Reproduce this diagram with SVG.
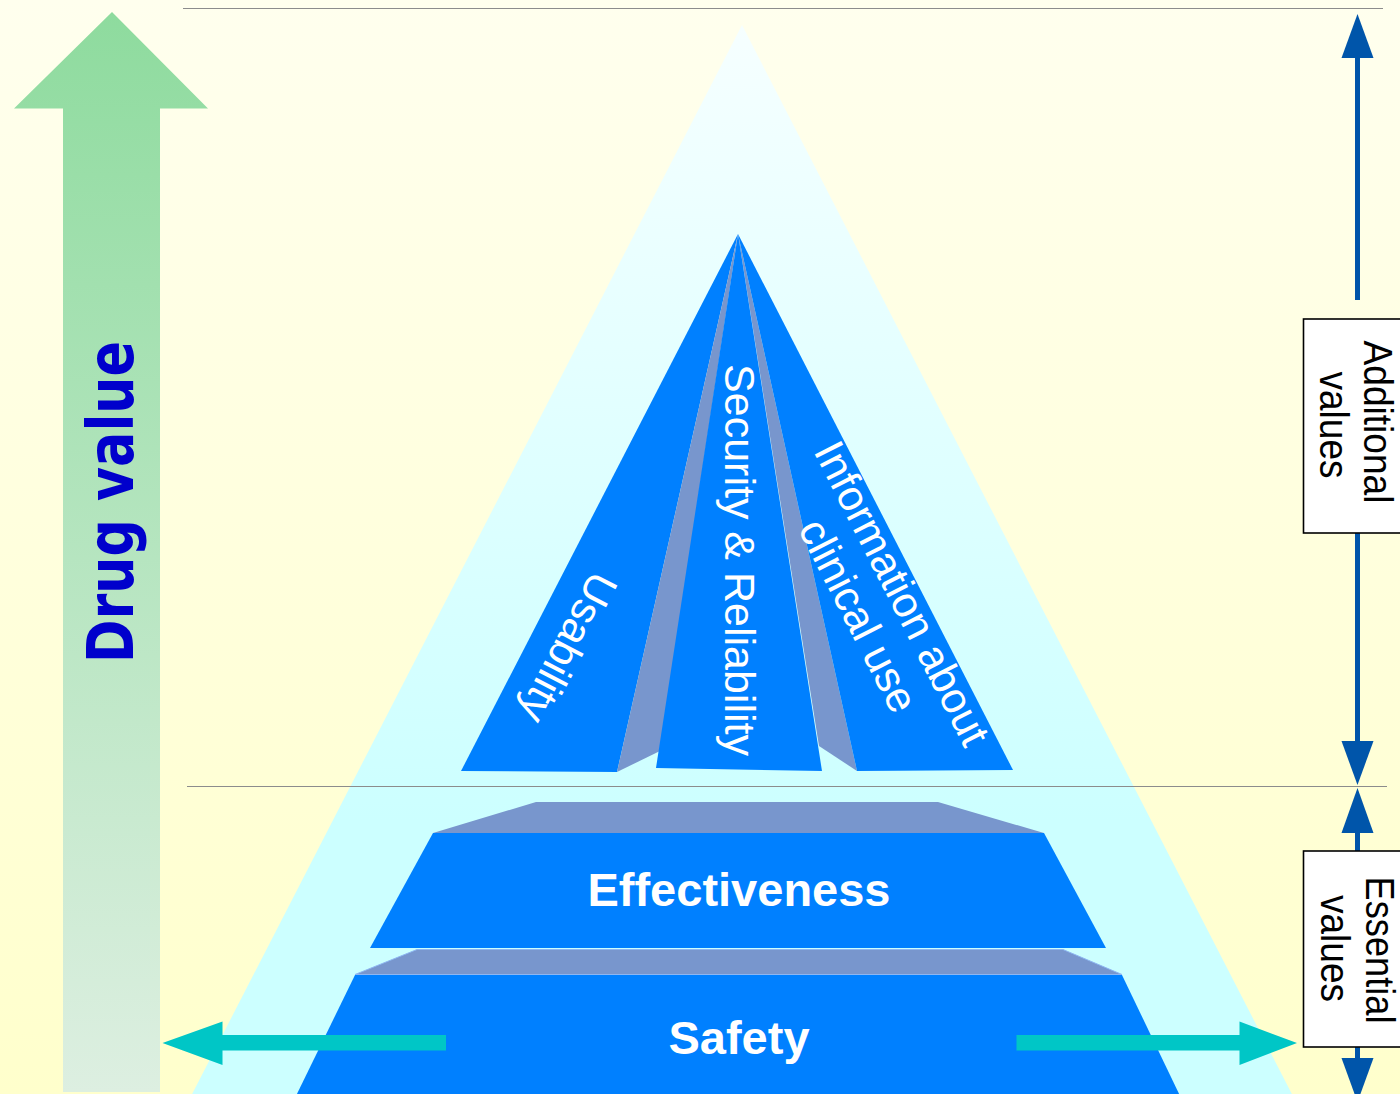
<svg xmlns="http://www.w3.org/2000/svg" width="1400" height="1094" viewBox="0 0 1400 1094">
  <defs>
    <linearGradient id="bg" x1="0" y1="0" x2="0" y2="1094" gradientUnits="userSpaceOnUse">
      <stop offset="0" stop-color="#FFFFEE"/>
      <stop offset="1" stop-color="#FFFFCC"/>
    </linearGradient>
    <linearGradient id="triFill" x1="0" y1="25" x2="0" y2="820" gradientUnits="userSpaceOnUse">
      <stop offset="0" stop-color="#F6FFFF"/>
      <stop offset="1" stop-color="#CCFFFF"/>
    </linearGradient>
    <linearGradient id="valueArrow" x1="0" y1="12" x2="0" y2="1092" gradientUnits="userSpaceOnUse">
      <stop offset="0" stop-color="#8EDB9E"/>
      <stop offset="1" stop-color="#DDEFE1"/>
    </linearGradient>
    <clipPath id="page">
      <rect x="0" y="0" width="1400" height="1094"/>
    </clipPath>
  </defs>
  <style>
    .face { fill: #0080FF; }
    .side { fill: #7896CD; }
    .rule { stroke: #8C8C8C; stroke-width: 1.2; fill: none; }
    .facetLabel { font-family: "Liberation Sans", Arial, sans-serif; font-size: 43px; fill: #FFFFFF; }
    .tierLabel { font-family: "Liberation Sans", Arial, sans-serif; font-size: 47px; font-weight: bold; fill: #FFFFFF; text-anchor: middle; }
    .boxText { font-family: "Liberation Sans", Arial, sans-serif; font-size: 40px; fill: #000000; text-anchor: middle; }
    .scaleBox { fill: #FFFFFF; stroke: #000000; stroke-width: 1.6; }
    .scaleLine { stroke: #0055AA; stroke-width: 5; fill: none; }
    .scaleHead { fill: #0055AA; }
    .spread { fill: #00C6C6; }
  </style>

  <!-- background -->
  <rect x="0" y="0" width="1400" height="1094" fill="url(#bg)"/>

  <!-- rising value arrow -->
  <g id="drug-value-arrow">
    <polygon points="112,12 208,108.5 160,108.5 160,1092 63,1092 63,108.5 14,108.5" fill="url(#valueArrow)"/>
    <text x="0" y="0" transform="translate(133,502) rotate(-90)" font-family="'DejaVu Sans', 'Liberation Sans', sans-serif" font-weight="bold" font-size="64" fill="#0000CC" text-anchor="middle" textLength="322" lengthAdjust="spacingAndGlyphs">Drug value</text>
  </g>

  <!-- large background triangle -->
  <g id="value-triangle" clip-path="url(#page)">
    <polygon points="742,25 1296,1102 188,1102" fill="url(#triFill)"/>
  </g>

  <!-- section dividers -->
  <g id="dividers">
    <line class="rule" x1="183" y1="8.5" x2="1383" y2="8.5"/>
    <line class="rule" x1="187" y1="786.5" x2="1387" y2="786.5"/>
  </g>

  <!-- upper pyramid: additional values -->
  <g id="usability">
    <polygon class="face" points="738,234 461,771 617,772"/>
    <text class="facetLabel" x="0" y="0" transform="translate(555,641) rotate(117.5)" text-anchor="middle">Usability</text>
  </g>
  <g id="gap-left">
    <polygon class="side" points="738,234 617,772 660,751"/>
  </g>
  <g id="gap-right">
    <polygon class="side" points="738,234 819,746 857,771"/>
  </g>
  <g id="security-reliability">
    <polygon class="face" points="738,234 656,768 822,771"/>
    <text class="facetLabel" x="0" y="0" transform="translate(725,560) rotate(90)" text-anchor="middle">Security &amp; Reliability</text>
  </g>
  <g id="clinical-information">
    <polygon class="face" points="738,234 857,771 1013,770"/>
    <g transform="translate(889,600) rotate(63)">
      <text class="facetLabel" x="0" y="0" text-anchor="middle">Information about</text>
      <text class="facetLabel" x="0" y="49" text-anchor="middle">clinical use</text>
    </g>
  </g>

  <!-- lower pyramid: essential values -->
  <g id="effectiveness">
    <polygon class="side" points="433,833 536,802 938,802 1044,833"/>
    <polygon class="face" points="433,833 1044,833 1106,948 370,948"/>
    <text class="tierLabel" x="739" y="906">Effectiveness</text>
  </g>
  <g id="safety" clip-path="url(#page)">
    <polygon class="side" points="355,974.5 417,949.5 1063,949.5 1122,974.5" stroke="#8DB6F2" stroke-width="1"/>
    <polygon class="face" points="355,975 1122,975 1182,1100 294,1100"/>
    <text class="tierLabel" x="739" y="1054">Safety</text>
  </g>

  <!-- horizontal spread arrows -->
  <g id="connectors">
    <polygon class="spread" points="162.5,1043 222.5,1021.5 222.5,1035 446,1035 446,1050.5 222.5,1050.5 222.5,1065"/>
    <polygon class="spread" points="1297,1043 1239.5,1021.5 1239.5,1035 1016.5,1035 1016.5,1050.5 1239.5,1050.5 1239.5,1065"/>

    <!-- vertical value scale -->
    <line class="scaleLine" x1="1357.5" y1="50" x2="1357.5" y2="300"/>
    <polygon class="scaleHead" points="1357.5,14 1373.5,58 1341.5,58"/>
    <line class="scaleLine" x1="1357.5" y1="533" x2="1357.5" y2="748"/>
    <polygon class="scaleHead" points="1357.5,785 1373.5,741 1341.5,741"/>

    <line class="scaleLine" x1="1357.5" y1="826" x2="1357.5" y2="851"/>
    <polygon class="scaleHead" points="1357.5,788 1373.5,833 1341.5,833"/>
    <line class="scaleLine" x1="1357.5" y1="1046" x2="1357.5" y2="1066"/>
    <polygon class="scaleHead" points="1357.5,1102 1373.5,1058 1341.5,1058"/>
  </g>

  <g id="additional-values">
    <rect class="scaleBox" x="1303.5" y="319" width="110" height="214"/>
    <text class="boxText" x="0" y="0" transform="translate(1364,422) rotate(90)" textLength="163" lengthAdjust="spacingAndGlyphs">Additional</text>
    <text class="boxText" x="0" y="0" transform="translate(1320,425) rotate(90)" textLength="107" lengthAdjust="spacingAndGlyphs">values</text>
  </g>

  <g id="essential-values">
    <rect class="scaleBox" x="1303.5" y="851" width="110" height="196"/>
    <text class="boxText" x="0" y="0" transform="translate(1366,950) rotate(90)" textLength="147" lengthAdjust="spacingAndGlyphs">Essential</text>
    <text class="boxText" x="0" y="0" transform="translate(1321,948.5) rotate(90)" textLength="107" lengthAdjust="spacingAndGlyphs">values</text>
  </g>
</svg>
